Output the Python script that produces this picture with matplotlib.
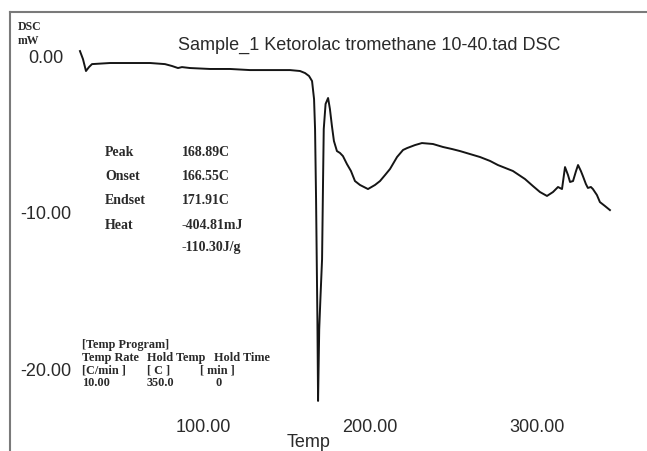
import matplotlib
matplotlib.use("Agg")
import matplotlib.pyplot as plt
import matplotlib.transforms as mtransforms

# DSC trace: temperature (C) vs heat flow (mW)
temp = [26.3, 28.1, 29.9, 31.7, 33.5, 44.3, 56.3, 68.3, 77.2, 81.4, 85.0, 87.4,
        92.2, 104.2, 116.2, 128.1, 140.1, 152.1, 158.1, 161.1, 163.5, 165.3,
        166.5, 167.1, 167.7, 168.1, 168.5, 168.9,
        169.6, 170.3, 171.3, 171.9, 172.3, 173.4, 174.9, 176.0, 177.2,
        178.4, 180.2, 182.0, 183.8, 186.2, 188.6, 191.0, 194.0, 198.8, 203.0,
        206.0, 209.0, 212.0, 216.2, 219.8, 222.2, 226.9, 231.1, 237.7, 243.7,
        249.1, 253.9, 259.9, 265.9, 271.9, 276.6, 285.6, 292.8, 297.6, 301.8,
        306.0, 309.6, 312.6, 315.0, 316.8, 318.6, 319.8, 321.6, 323.4, 324.6,
        326.3, 327.5, 329.3, 330.5, 332.3, 333.5, 335.9, 337.7, 340.7, 343.7]
dsc = [0.38, -0.13, -0.89, -0.64, -0.45, -0.38, -0.38, -0.38, -0.45, -0.57,
       -0.70, -0.64, -0.70, -0.76, -0.76, -0.83, -0.83, -0.83, -0.89, -1.02,
       -1.21, -1.53,
       -2.68, -4.59, -9.04, -12.87, -16.69, -21.91,
       -17.32, -15.41, -12.87, -7.77, -4.59, -2.99, -2.61, -3.31, -4.39,
       -5.35, -5.99, -6.11, -6.31, -6.82, -7.26, -7.90, -8.15, -8.41, -8.15,
       -7.90, -7.52, -7.13, -6.37, -5.92, -5.80, -5.61, -5.48, -5.54, -5.73,
       -5.86, -5.99, -6.18, -6.37, -6.62, -6.88, -7.26, -7.77, -8.22, -8.60,
       -8.85, -8.60, -8.28, -8.41, -7.01, -7.52, -7.96, -7.90, -7.26, -6.88,
       -7.26, -7.58, -8.09, -8.34, -8.28, -8.41, -8.79, -9.24, -9.49, -9.75]

xticks = [100, 200, 300]
xtick_labels = ["100.00", "200.00", "300.00"]
yticks = [0, -10, -20]
ytick_labels = ["0.00", "-10.00", "-20.00"]

peak_rows = [("Peak", "168.89C"), ("Onset", "166.55C"), ("Endset", "171.91C"),
             ("Heat", "-404.81mJ"), ("", "-110.30J/g")]
program_rows = [["[Temp Program]"],
                ["Temp Rate", "Hold Temp", "Hold Time"],
                ["[C/min ]", "[ C ]", "[ min ]"],
                ["10.00", "350.0", "0"]]

W, H = 647, 452
fig = plt.figure(figsize=(W / 100, H / 100), dpi=100)
fig.patch.set_facecolor("white")
ax = fig.add_axes([10 / W, 0, 1 - 10 / W, (H - 13) / H])

ax.plot(temp, dsc, color="#151515", lw=1.4, solid_joinstyle="round")
ax.set_xlim(-15.6, 365.9)
ax.set_ylim(-25.1, 2.87)
ax.set_xticks([])
ax.set_yticks([])
for side in ("right", "bottom"):
    ax.spines[side].set_visible(False)
for side in ("left", "top"):
    ax.spines[side].set_color("#7a7a7a")
    ax.spines[side].set_linewidth(1.5)

sans = "Liberation Sans"
serif = "Liberation Serif"
txt = "#2a2a2a"

ytrans = mtransforms.blended_transform_factory(ax.transAxes, ax.transData)
for v, lab in zip(yticks, ytick_labels):
    ax.text(0.0565, v, lab, transform=ytrans, ha="center", va="center",
            fontsize=13, family=sans, color=txt)
for v, lab in zip(xticks, xtick_labels):
    ax.text(v, -23.57, lab, ha="center", va="center", fontsize=13,
            family=sans, color=txt)
ax.text(163.5, -24.5, "Temp", ha="center", va="center", fontsize=13,
        family=sans, color=txt)
ax.text(199.4, 0.83, "Sample_1 Ketorolac tromethane 10-40.tad DSC",
        ha="center", va="center", fontsize=13, family=sans, color=txt)

# unit label in the top-left corner
fig.text(18 / W, 1 - 27 / H, "DSC", fontsize=8.5, family=serif,
         weight="bold", va="center", color=txt)
fig.text(18 / W, 1 - 41 / H, "mW", fontsize=8.5, family=serif,
         weight="bold", va="center", color=txt)

# peak analysis block
row_y = [153, 177, 201, 226, 248]
for (lab, val), y in zip(peak_rows, row_y):
    fig.text(105 / W, 1 - y / H, lab, fontsize=10, family=serif,
             weight="bold", va="center", color=txt)
    fig.text(182 / W, 1 - y / H, val, fontsize=10, family=serif,
             weight="bold", va="center", color=txt)

# temperature program block
prog_y = [345, 358, 371, 383]
prog_x = [[82], [82, 147, 214], [82, 147, 200], [82, 147, 215]]
for row, xs, y in zip(program_rows, prog_x, prog_y):
    for s, x in zip(row, xs):
        fig.text(x / W, 1 - y / H, s, fontsize=8.8, family=serif,
                 weight="bold", va="center", color=txt)

fig.savefig("out.png", dpi=100)
